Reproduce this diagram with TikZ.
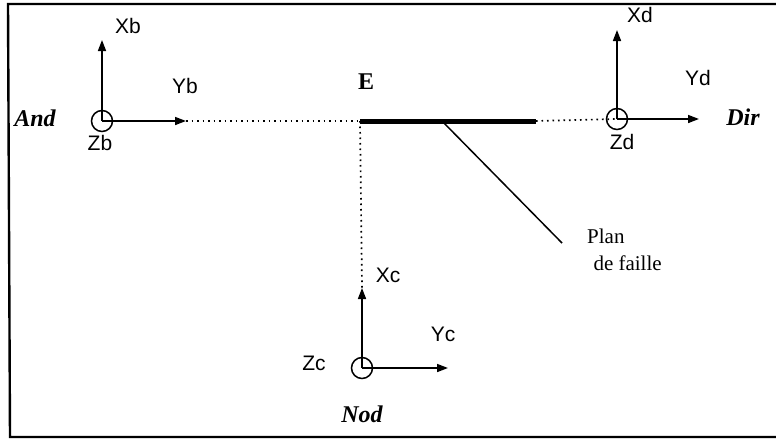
\documentclass[tikz,border=0pt]{standalone}
\usepackage{fontspec}
\setmainfont{Liberation Serif}
\setsansfont{Liberation Sans}
\usetikzlibrary{arrows.meta}
\begin{document}
\begin{tikzpicture}[x=1pt,y=-1pt,
  axis/.style={-{Triangle[length=11pt,width=8pt]}, line width=1.6pt},
  dots/.style={line width=1.7pt, dash pattern=on 1.7pt off 3.8pt},
  orig/.style={circle, draw, line width=1.5pt, minimum size=21pt, inner sep=0pt},
  lab/.style={font=\sffamily\fontsize{21}{21}\selectfont, inner sep=0pt},
  place/.style={font=\bfseries\itshape\fontsize{24}{24}\selectfont, inner sep=0pt},
  note/.style={font=\fontsize{21}{27}\selectfont, inner sep=0pt, align=left}]
\useasboundingbox (0,0) rectangle (776,442);
% frame
\draw[line width=2.4pt] (780,4) -- (8,4) -- (10,437) -- (780,437);
% B frame
\node[orig] (ob) at (102,121) {};
\coordinate (xb) at (102,40);
\coordinate (yb) at (186,121);
\draw[axis] (ob.center) -- (xb);
\draw[axis] (ob.center) -- (yb);
\node[lab] (lxb) at (128,26) {Xb};
\node[lab] (lyb) at (185,86) {Yb};
\node[lab] (lzb) at (100,143) {Zb};
\node[place] (and) at (35,118) {And};
% E point
\coordinate (e) at (360,121);
\node[font=\bfseries\fontsize{24}{24}\selectfont, inner sep=0pt] (le) at (366,82) {E};
\draw[dots] (yb) -- (e);
% fault
\coordinate (f) at (536,121);
\draw[line width=5pt] (e) -- (f);
\coordinate (fa) at (442,121);
\coordinate (fb) at (562,243);
\draw[line width=1.5pt] (fa) -- (fb);
\node[note, anchor=north west] (plan) at (587,229) {Plan\\\hspace{0.3em}de faille};
% D frame
\node[orig] (od) at (617,119) {};
\coordinate (xd) at (617,30);
\coordinate (yd) at (699,119);
\draw[dots] (f) -- (od.center);
\draw[axis] (od.center) -- (xd);
\draw[axis] (od.center) -- (yd);
\node[lab] (lxd) at (640,15) {Xd};
\node[lab] (lyd) at (698,78) {Yd};
\node[lab] (lzd) at (622,142) {Zd};
\node[place] (dir) at (743,117) {Dir};
% C frame
\node[orig] (oc) at (362,368) {};
\coordinate (xc) at (362,288);
\coordinate (yc) at (448,368);
\draw[dots] (e) -- (xc);
\draw[axis] (oc.center) -- (xc);
\draw[axis] (oc.center) -- (yc);
\node[lab] (lxc) at (388,275) {Xc};
\node[lab] (lyc) at (443,334) {Yc};
\node[lab] (lzc) at (314,363) {Zc};
\node[place] (nod) at (362,414) {Nod};
\end{tikzpicture}
\end{document}
